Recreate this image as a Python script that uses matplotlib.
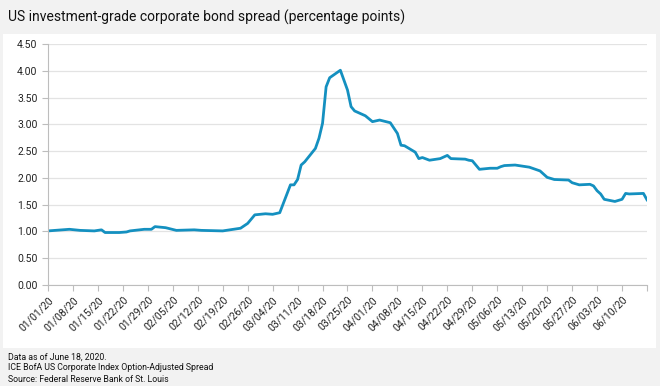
import matplotlib
matplotlib.use("Agg")
import matplotlib.pyplot as plt
from matplotlib.patches import Rectangle
import pandas as pd

# spread, percentage points
dates = ["2020-01-01", "2020-01-03", "2020-01-07", "2020-01-10", "2020-01-14",
         "2020-01-16", "2020-01-17", "2020-01-21", "2020-01-23", "2020-01-24",
         "2020-01-28", "2020-01-30", "2020-01-31", "2020-02-03", "2020-02-06",
         "2020-02-11", "2020-02-13", "2020-02-19", "2020-02-24", "2020-02-26",
         "2020-02-28", "2020-03-02", "2020-03-04", "2020-03-06", "2020-03-09",
         "2020-03-10", "2020-03-11", "2020-03-12", "2020-03-13", "2020-03-16",
         "2020-03-17", "2020-03-18", "2020-03-19", "2020-03-20", "2020-03-23",
         "2020-03-25", "2020-03-26", "2020-03-27", "2020-03-30", "2020-04-01",
         "2020-04-03", "2020-04-06", "2020-04-08", "2020-04-09", "2020-04-10",
         "2020-04-13", "2020-04-14", "2020-04-15", "2020-04-17", "2020-04-20",
         "2020-04-22", "2020-04-23", "2020-04-27", "2020-04-28", "2020-04-29",
         "2020-05-01", "2020-05-04", "2020-05-06", "2020-05-07", "2020-05-08",
         "2020-05-11", "2020-05-14", "2020-05-15", "2020-05-18", "2020-05-20",
         "2020-05-22", "2020-05-26", "2020-05-27", "2020-05-29", "2020-06-01",
         "2020-06-02", "2020-06-03", "2020-06-04", "2020-06-05", "2020-06-08",
         "2020-06-10", "2020-06-11", "2020-06-12", "2020-06-16", "2020-06-17"]
spread = [1.01, 1.02, 1.04, 1.02, 1.01,
          1.03, 0.98, 0.98, 0.99, 1.01,
          1.04, 1.04, 1.09, 1.07, 1.02,
          1.03, 1.02, 1.01, 1.06, 1.15,
          1.31, 1.33, 1.32, 1.35, 1.87,
          1.87, 1.97, 2.24, 2.30, 2.55,
          2.74, 3.02, 3.70, 3.87, 4.01,
          3.64, 3.33, 3.25, 3.16, 3.05,
          3.08, 3.03, 2.83, 2.61, 2.60,
          2.48, 2.36, 2.38, 2.33, 2.36,
          2.42, 2.36, 2.35, 2.33, 2.32,
          2.16, 2.18, 2.18, 2.21, 2.23,
          2.24, 2.21, 2.20, 2.13, 2.01,
          1.97, 1.96, 1.91, 1.87, 1.88,
          1.85, 1.76, 1.70, 1.60, 1.56,
          1.60, 1.71, 1.70, 1.71, 1.59]

title = "US investment-grade corporate bond spread (percentage points)"
notes = ["Data as of June 18, 2020.",
         "ICE BofA US Corporate Index Option-Adjusted Spread",
         "Source: Federal Reserve Bank of St. Louis"]

x = pd.to_datetime(dates)
ticks = pd.date_range("2020-01-01", "2020-06-17", freq="7D")

plt.rcParams['font.family'] = ['Roboto', 'DejaVu Sans']

fig = plt.figure(figsize=(6.6, 3.86), dpi=100, facecolor="#f2f2f2")
# white panel behind the chart
fig.patches.append(Rectangle((3/660, 38/386), 653/660, 314/386, transform=fig.transFigure,
                             facecolor="white", edgecolor="none", zorder=-10))

ax = fig.add_axes([48/660, 101/386, 599/660, 241/386])
ax.set_facecolor("none")
ax.plot(x, spread, color="#1490c0", lw=2.0, solid_joinstyle="round")

ax.set_ylim(0, 4.5)
ax.set_yticks([i * 0.5 for i in range(10)])
ax.yaxis.set_major_formatter(plt.FormatStrFormatter("%.2f"))
ax.set_xlim(ticks[0], ticks[-1])
ax.set_xticks(ticks)
ax.set_xticklabels([t.strftime("%m/%d/%y") for t in ticks[:-1]] + [""],
                   rotation=45, ha="right", rotation_mode="anchor")

ax.grid(axis="y", color="#e3e3e3", lw=0.9)
ax.set_axisbelow(True)
for s in ["top", "right"]:
    ax.spines[s].set_visible(False)
for s in ["left", "bottom"]:
    ax.spines[s].set_color("#bdbdbd")
ax.tick_params(axis="both", colors="#bdbdbd", labelcolor="#222222", labelsize=7.5, length=4)
ax.tick_params(axis="x", pad=3)

fig.text(8/660, 1 - 17/386, title, fontsize=10, va="center", ha="left", color="#111111")
for i, n in enumerate(notes):
    fig.text(8/660, 1 - (357 + i * 11)/386, n, fontsize=6.3, va="center", ha="left",
             color="#111111")

fig.savefig("out.png", dpi=100, facecolor=fig.get_facecolor())
